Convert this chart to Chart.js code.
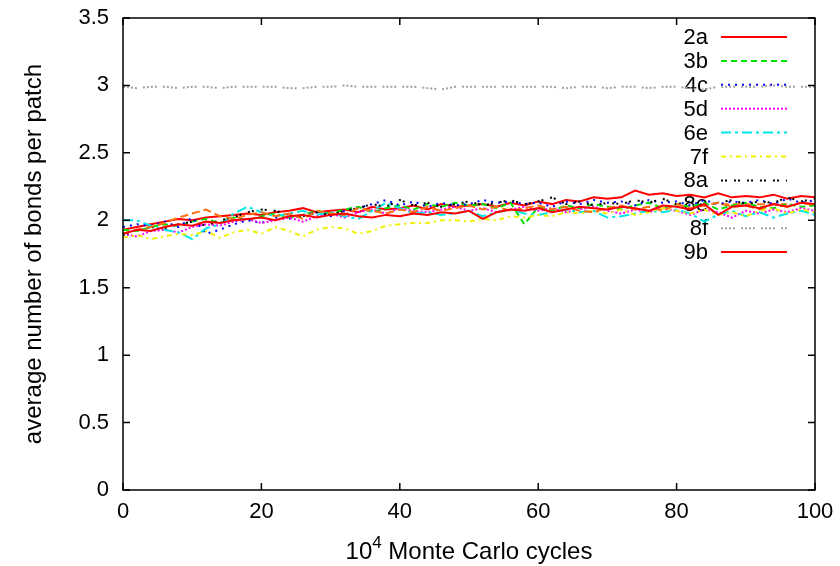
<!DOCTYPE html>
<html>
<head>
<meta charset="utf-8">
<script src="https://cdn.jsdelivr.net/npm/chart.js@4.4.1/dist/chart.umd.min.js"></script>
<style>
  html, body { margin: 0; padding: 0; background: #fff; }
  #wrap { width: 840px; height: 566px; }
</style>
</head>
<body>
<div id="wrap"><canvas id="chart" width="840" height="566"></canvas></div>
<script>
// Monte Carlo cycles (in units of 10^4)
var cycles = [0, 2, 4, 6, 8, 10, 12, 14, 16, 18, 20, 22, 24, 26, 28, 30, 32, 34, 36, 38, 40,
  42, 44, 46, 48, 50, 52, 54, 56, 58, 60, 62, 64, 66, 68, 70, 72, 74, 76, 78, 80,
  82, 84, 86, 88, 90, 92, 94, 96, 98, 100];

var seriesNames = ["2a", "3b", "4c", "5d", "6e", "7f", "8a", "8e", "8f", "9b"];

var s2a = [1.93, 1.95, 1.97, 1.99, 2.01, 2.00, 2.02, 2.03, 2.04, 2.05, 2.04, 2.06, 2.07, 2.09, 2.06, 2.07, 2.08, 2.06, 2.10, 2.08, 2.09,
  2.11, 2.08, 2.12, 2.10, 2.11, 2.12, 2.10, 2.13, 2.11, 2.14, 2.12, 2.15, 2.14, 2.17, 2.16, 2.17, 2.22, 2.19, 2.20, 2.18,
  2.19, 2.17, 2.20, 2.17, 2.18, 2.17, 2.19, 2.16, 2.18, 2.17];
var s3b = [1.93, 1.92, 1.95, 1.97, 1.96, 1.99, 2.01, 1.98, 2.02, 2.00, 2.03, 2.05, 2.02, 2.04, 2.07, 2.05, 2.08, 2.10, 2.06, 2.09, 2.11,
  2.08, 2.12, 2.10, 2.13, 2.11, 2.12, 2.09, 2.13, 1.97, 2.10, 2.07, 2.11, 2.09, 2.12, 2.10, 2.08, 2.11, 2.13, 2.09, 2.12,
  2.10, 2.13, 2.08, 2.11, 2.13, 2.10, 2.09, 2.12, 2.10, 2.11];
var s4c = [1.95, 1.97, 1.96, 1.99, 1.95, 2.02, 1.90, 1.93, 1.97, 2.00, 1.98, 2.02, 2.01, 2.04, 2.06, 2.03, 2.07, 2.09, 2.12, 2.15, 2.11,
  2.14, 2.10, 2.13, 2.11, 2.12, 2.15, 2.13, 2.14, 2.12, 2.13, 2.10, 2.14, 2.12, 2.15, 2.13, 2.14, 2.11, 2.15, 2.13, 2.14,
  2.11, 2.15, 2.12, 2.14, 2.13, 2.15, 2.12, 2.16, 2.13, 2.15];
var s5d = [1.90, 1.88, 1.92, 1.93, 1.91, 1.95, 1.97, 1.96, 1.99, 2.01, 1.98, 2.00, 2.02, 1.99, 2.03, 2.05, 2.02, 2.06, 2.08, 2.05, 2.09,
  2.07, 2.06, 2.08, 2.10, 2.07, 2.09, 2.06, 2.08, 2.10, 2.07, 2.09, 2.06, 2.08, 2.10, 2.07, 2.05, 2.08, 2.06, 2.09, 2.07,
  2.04, 2.08, 2.06, 2.02, 2.07, 2.05, 2.08, 2.06, 2.09, 2.07];
var s6e = [2.00, 2.00, 1.96, 1.93, 1.91, 1.86, 1.94, 1.97, 2.05, 2.10, 2.06, 2.03, 2.05, 2.07, 2.04, 2.06, 2.03, 2.01, 2.07, 2.13, 2.09,
  2.05, 2.06, 2.04, 2.05, 2.07, 2.03, 2.06, 2.08, 2.05, 2.04, 2.06, 2.08, 2.06, 2.07, 2.02, 2.03, 2.05, 2.07, 2.06, 2.08,
  2.05, 1.99, 2.04, 2.07, 2.03, 2.06, 2.02, 2.05, 2.07, 2.04];
var s7f = [1.87, 1.89, 1.86, 1.88, 1.90, 1.89, 1.92, 1.87, 1.91, 1.93, 1.90, 1.95, 1.92, 1.88, 1.93, 1.95, 1.94, 1.90, 1.92, 1.96, 1.97,
  1.98, 1.98, 2.00, 2.00, 1.99, 2.01, 2.00, 2.03, 2.02, 2.04, 2.03, 2.06, 2.05, 2.07, 2.05, 2.08, 2.04, 2.06, 2.09, 2.07,
  2.05, 2.08, 2.04, 2.06, 2.03, 2.07, 2.09, 2.05, 2.08, 2.06];
var s8a = [1.89, 1.93, 1.95, 1.94, 1.97, 1.99, 1.96, 2.00, 2.02, 2.06, 2.08, 2.07, 2.04, 2.03, 2.06, 2.04, 2.07, 2.09, 2.12, 2.10, 2.15,
  2.11, 2.13, 2.10, 2.12, 2.14, 2.11, 2.13, 2.15, 2.12, 2.14, 2.17, 2.12, 2.14, 2.11, 2.13, 2.12, 2.15, 2.13, 2.16, 2.12,
  2.14, 2.11, 2.13, 2.15, 2.12, 2.14, 2.13, 2.17, 2.14, 2.16];
var s8e = [1.90, 1.93, 1.95, 1.98, 2.02, 2.05, 2.08, 2.03, 2.01, 2.04, 2.06, 2.03, 2.05, 2.01, 2.07, 2.05, 2.04, 2.09, 2.07, 2.05, 2.08,
  2.06, 2.10, 2.07, 2.09, 2.11, 2.08, 2.10, 2.07, 2.09, 2.11, 2.08, 2.10, 2.07, 2.06, 2.09, 2.11, 2.08, 2.10, 2.07, 2.12,
  2.09, 2.11, 2.13, 2.10, 2.11, 2.08, 2.12, 2.10, 2.13, 2.11];
var s8f = [2.99, 2.98, 2.99, 2.99, 2.98, 2.99, 2.99, 2.98, 2.99, 2.99, 2.99, 2.99, 2.98, 2.98, 2.99, 2.99, 3.00, 2.99, 2.99, 2.99, 2.99,
  2.99, 2.98, 2.97, 2.99, 2.99, 2.99, 2.99, 2.99, 2.99, 2.99, 2.99, 2.98, 2.99, 2.99, 2.98, 2.99, 2.99, 2.98, 2.99, 2.99,
  2.98, 2.97, 2.99, 2.99, 2.99, 2.99, 3.00, 2.99, 2.99, 2.99];
var s9b = [1.90, 1.93, 1.92, 1.95, 1.97, 1.96, 1.99, 1.98, 2.00, 2.01, 2.02, 2.00, 2.03, 2.04, 2.02, 2.04, 2.05, 2.03, 2.02, 2.04, 2.03,
  2.05, 2.04, 2.06, 2.05, 2.07, 2.01, 2.06, 2.08, 2.07, 2.09, 2.06, 2.08, 2.10, 2.09, 2.08, 2.10, 2.09, 2.07, 2.11, 2.10,
  2.08, 2.12, 2.04, 2.10, 2.11, 2.09, 2.12, 2.10, 2.13, 2.12];

var seriesValues = [s2a, s3b, s4c, s5d, s6e, s7f, s8a, s8e, s8f, s9b];

var lineColors = ["#ff0000", "#00e000", "#0000ff", "#ff00ff", "#00e8e8", "#f0f000", "#000000", "#ff7010", "#a0a0a0", "#ff0000"];
var lineDashes = [[], [6, 4], [2, 5], [2, 2], [10, 4, 3, 4], [5, 4, 2, 4], [2, 2, 2, 7], [8, 4], [2, 2, 2, 2, 2, 2, 2, 6], []];

var FONT = "'Liberation Sans', Arial, Helvetica, sans-serif";
var FS = 22;     // tick labels and key
var FT = 24;     // axis titles

var datasets = seriesNames.map(function (name, i) {
  return {
    label: name,
    data: cycles.map(function (c, j) { return { x: c, y: seriesValues[i][j] }; }),
    borderColor: lineColors[i],
    borderDash: lineDashes[i],
    borderWidth: 2,
    pointRadius: 0,
    tension: 0,
    fill: false,
    order: seriesNames.length - i
  };
});

// gnuplot-like frame, inward ticks, key and x-axis title
var gnuplotLook = {
  id: 'gnuplotLook',
  beforeDatasetsDraw: function (chart) {
    var ctx = chart.ctx;
    ctx.save();
    ctx.font = FS + "px " + FONT;
    ctx.textBaseline = "middle";
    ctx.textAlign = "right";
    chart.data.datasets.forEach(function (ds, i) {
      var y = 37 + i * 23.9;
      ctx.fillStyle = "#000";
      ctx.fillText(ds.label, 708, y + 1);
      ctx.strokeStyle = ds.borderColor;
      ctx.lineWidth = 2;
      ctx.setLineDash(ds.borderDash);
      ctx.beginPath();
      ctx.moveTo(721, y);
      ctx.lineTo(787, y);
      ctx.stroke();
    });
    ctx.restore();
  },
  afterDraw: function (chart) {
    var ctx = chart.ctx;
    var a = chart.chartArea;
    var xs = chart.scales.x, ys = chart.scales.y;
    ctx.save();
    ctx.strokeStyle = "#000";
    ctx.lineWidth = 1.5;
    ctx.setLineDash([]);
    ctx.strokeRect(a.left, a.top, a.right - a.left, a.bottom - a.top);
    var tl = 7;
    ctx.beginPath();
    xs.ticks.forEach(function (t) {
      var px = xs.getPixelForValue(t.value);
      ctx.moveTo(px, a.bottom); ctx.lineTo(px, a.bottom - tl);
      ctx.moveTo(px, a.top); ctx.lineTo(px, a.top + tl);
    });
    ys.ticks.forEach(function (t) {
      var py = ys.getPixelForValue(t.value);
      ctx.moveTo(a.left, py); ctx.lineTo(a.left + tl, py);
      ctx.moveTo(a.right, py); ctx.lineTo(a.right - tl, py);
    });
    ctx.stroke();

    // x-axis title with superscript exponent
    var main = " Monte Carlo cycles";
    var fsExp = Math.round(FT * 0.7);
    ctx.fillStyle = "#000";
    ctx.textBaseline = "alphabetic";
    ctx.textAlign = "left";
    ctx.font = FT + "px " + FONT;
    var wBase = ctx.measureText("10").width;
    var wMain = ctx.measureText(main).width;
    ctx.font = fsExp + "px " + FONT;
    var wExp = ctx.measureText("4").width;
    var total = wBase + wExp + wMain;
    var x0 = (a.left + a.right) / 2 - total / 2;
    var base = 559;
    ctx.font = FT + "px " + FONT;
    ctx.fillText("10", x0, base);
    ctx.font = fsExp + "px " + FONT;
    ctx.fillText("4", x0 + wBase, base - 11);
    ctx.font = FT + "px " + FONT;
    ctx.fillText(main, x0 + wBase + wExp, base);
    ctx.restore();
  }
};

new Chart(document.getElementById("chart"), {
  type: 'line',
  data: { datasets: datasets },
  plugins: [gnuplotLook],
  options: {
    responsive: false,
    animation: false,
    layout: { padding: { top: 18, right: 25, left: 0, bottom: 0 } },
    plugins: { legend: { display: false }, tooltip: { enabled: false } },
    scales: {
      x: {
        type: 'linear',
        min: 0, max: 100,
        ticks: { stepSize: 20, color: "#000", font: { family: FONT, size: FS }, padding: 9, maxRotation: 0 },
        grid: { display: false, drawTicks: false },
        border: { display: false },
        afterFit: function (s) { s.height = 76; s.paddingLeft = 0; s.paddingRight = 0; }
      },
      y: {
        min: 0, max: 3.5,
        ticks: {
          stepSize: 0.5, color: "#000", font: { family: FONT, size: FS }, padding: 14,
          callback: function (v) { return String(v); }
        },
        grid: { display: false, drawTicks: false },
        border: { display: false },
        title: {
          display: true,
          text: "average number of bonds per patch",
          color: "#000",
          font: { family: FONT, size: FT },
          padding: { top: 20, bottom: 0 }
        },
        afterFit: function (s) { s.width = 123; s.paddingTop = 0; s.paddingBottom = 0; }
      }
    }
  }
});
</script>
</body>
</html>
